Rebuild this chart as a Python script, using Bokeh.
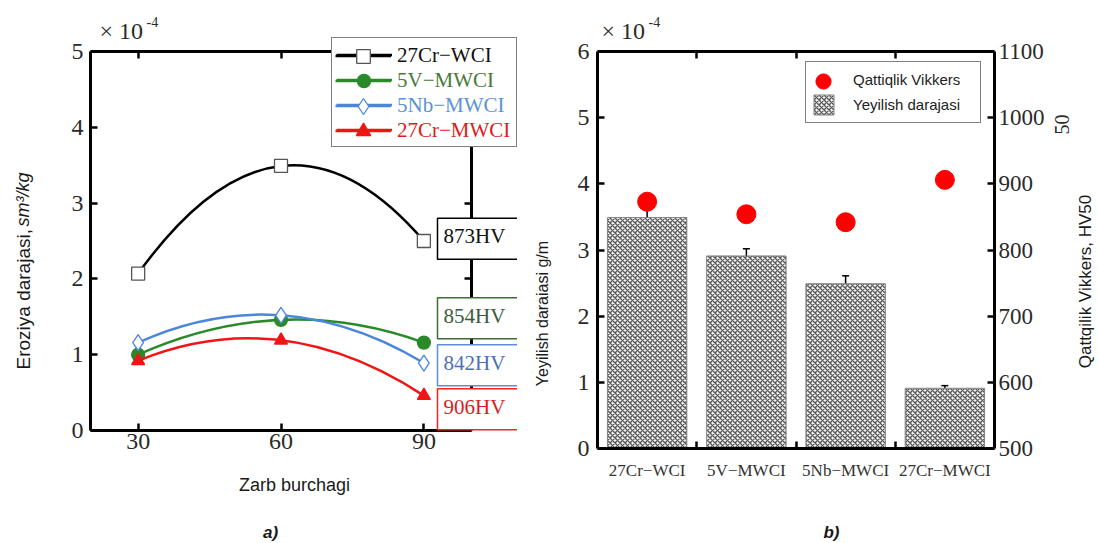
from math import pi
from bokeh.plotting import figure
from bokeh.layouts import row
from bokeh.models import (Range1d, LinearAxis, FixedTicker, Label, Legend, LegendItem,
                          ColumnDataSource, Whisker, TeeHead)
from bokeh.embed import file_html
from bokeh.resources import INLINE

# ---------------- data: panel a ----------------
angles = [30, 60, 90]
erosion_27cr_wci = [2.07, 3.49, 2.50]
erosion_5v_mwci = [1.00, 1.46, 1.16]
erosion_5nb_mwci = [1.16, 1.52, 0.89]
erosion_27cr_mwci = [0.92, 1.19, 0.46]
series_names = ["27Cr−WCI", "5V−MWCI", "5Nb−MWCI", "27Cr−MWCI"]
x_ticks_a = [30, 60, 90]
y_ticks_a = [0, 1, 2, 3, 4, 5]

# ---------------- data: panel b ----------------
materials = ["27Cr−WCI", "5V−MWCI", "5Nb−MWCI", "27Cr−MWCI"]
wear_rate = [3.49, 2.91, 2.49, 0.91]
wear_err = [0.23, 0.11, 0.12, 0.04]
hardness = [873, 854, 842, 906]
y_ticks_b = [0, 1, 2, 3, 4, 5, 6]
hv_ticks = [500, 600, 700, 800, 900, 1000, 1100]

SERIF = "Liberation Serif"
SANS = "Liberation Sans"
H = 543


def span(d0, d1, p0, p1, total):
    """data range covering the whole canvas so that d0..d1 sits at pixels p0..p1"""
    k = (d1 - d0) / (p1 - p0)
    return Range1d(d0 - p0 * k, d1 + (total - p1) * k)


def style_axis(ax, ticks, labels=True, size="24px", standoff=6, minor=None):
    ax.ticker = FixedTicker(ticks=ticks, minor_ticks=minor or [])
    ax.axis_line_width = 3
    ax.axis_line_color = "black"
    ax.major_tick_in = 7
    ax.major_tick_out = 0
    ax.minor_tick_in = 0
    ax.minor_tick_out = 0
    ax.major_tick_line_width = 2.5
    ax.major_tick_line_color = "black"
    ax.major_label_text_font = SERIF
    ax.major_label_text_font_size = size
    ax.major_label_text_color = "#2a2a2a"
    ax.major_label_standoff = standoff
    if not labels:
        ax.major_label_text_alpha = 0
        ax.major_label_text_font_size = "1px"


def screen_label(p, x, y, text, **kw):
    p.add_layout(Label(x=x, y=y, x_units="screen", y_units="screen", text=text, **kw))


# =============== panel a ===============
W1 = 517
xa0, xa1, ya0, ya1 = 20, 100, 0, 5
p1 = figure(width=W1, height=H,
            x_range=span(xa0, xa1, 90, 471, W1),
            y_range=span(ya0, ya1, H - 430, H - 51, H),
            output_backend="svg", toolbar_location=None,
            x_axis_location=None, y_axis_location=None, min_border=0)
p1.outline_line_color = None
p1.grid.visible = False

axb = LinearAxis(fixed_location=ya0, bounds=(xa0, xa1))
style_axis(axb, x_ticks_a, size="24px", standoff=3); p1.add_layout(axb, "below")
axl = LinearAxis(fixed_location=xa0, bounds=(ya0, ya1))
style_axis(axl, y_ticks_a, size="24px", standoff=7); p1.add_layout(axl, "left")
axt = LinearAxis(fixed_location=ya1, bounds=(xa0, xa1))
style_axis(axt, x_ticks_a, labels=False); p1.add_layout(axt, "above")
axr = LinearAxis(fixed_location=xa1, bounds=(ya0, ya1))
style_axis(axr, y_ticks_a, labels=False); p1.add_layout(axr, "right")

series = [erosion_27cr_wci, erosion_5v_mwci, erosion_5nb_mwci, erosion_27cr_mwci]
line_colors = ["black", "#2a8a2a", "#4a86dc", "#f01515"]
text_colors = ["#111111", "#4a7a3a", "#5b93d6", "#e01a1a"]
markers = ["square", "circle", "diamond", "triangle"]
m_sizes = [13, 13, 16, 13]
m_fill = ["white", "#2a8a2a", "white", "#f01515"]
m_line = ["#555555", "#2a8a2a", "#4a86dc", "#f01515"]
leg_glyph = [34, 33, 40, 36]

line_r = []
scat = []
for i, ys in enumerate(series):
    # quadratic curve passing through the three measured points
    cy = 2 * ys[1] - (ys[0] + ys[2]) / 2
    cx = 2 * angles[1] - (angles[0] + angles[2]) / 2
    qr = p1.quadratic(x0=[angles[0]], y0=[ys[0]], x1=[angles[2]], y1=[ys[2]],
                      cx=[cx], cy=[cy], line_color=line_colors[i], line_width=2.5)
    sr = p1.scatter(x=angles, y=ys, marker=markers[i], size=m_sizes[i],
                    fill_color=m_fill[i], line_color=m_line[i], line_width=1.3)
    line_r.append(qr)
    scat.append(sr)

# legend frame (331..515 x 39..147 px): white box with border, blank labels
leg1 = Legend(items=[LegendItem(label=" ", renderers=[line_r[i]]) for i in range(len(series))],
              location=(331, H - 147), orientation="vertical",
              padding=4, spacing=0, margin=0, glyph_width=56, glyph_height=25,
              label_height=25, label_width=116, label_standoff=4,
              label_text_alpha=0, label_text_font=SERIF, label_text_font_size="20px",
              border_line_color="black", border_line_width=1.5,
              background_fill_color="white", background_fill_alpha=1)
p1.add_layout(leg1)

row_cy = [55.5, 80.5, 105.5, 130.5]
glyph_cx = 331 + 4 + 28
# one legend per series, so each label gets its own colour
for i in range(len(series)):
    p1.add_layout(Legend(items=[LegendItem(label=series_names[i], renderers=[line_r[i]])],
                         location=(335, H - (row_cy[i] + 12.5)),
                         padding=0, spacing=0, margin=0, glyph_width=56, glyph_height=25,
                         label_height=25, label_standoff=6,
                         label_text_font=SERIF, label_text_font_size="21px",
                         label_text_color=text_colors[i],
                         border_line_color=None, background_fill_alpha=0))
for i in range(len(series)):
    g = leg_glyph[i]
    p1.add_layout(Legend(items=[LegendItem(label=" ", renderers=[scat[i]])],
                         location=(glyph_cx - g / 2, H - (row_cy[i] + g / 2)),
                         padding=0, spacing=0, margin=0, glyph_width=g, glyph_height=g,
                         label_height=g, label_width=1, label_standoff=0, label_text_alpha=0,
                         border_line_color=None, background_fill_alpha=0))

# hardness boxes
box_line = ["black", "#3d6b3a", "#5b8fd8", "#ff2020"]
box_text = ["#111111", "#3d5a3a", "#4b6fb8", "#d81e1e"]
hv_y = [2.53, 1.48, 0.86, 0.28]
for i, h in enumerate(hardness):
    p1.add_layout(Label(x=92.86, y=hv_y[i], text=f"{h}HV", text_font=SERIF, text_font_size="21px",
                        text_color=box_text[i], text_baseline="middle", text_align="left",
                        border_line_color=box_line[i], border_line_width=1.5,
                        background_fill_color="white", background_fill_alpha=1,
                        padding=(6, 20, 6, 11)))

# multiplier
screen_label(p1, 99, H - 30, "× 10", text_font=SERIF, text_font_size="24px",
             text_color="#2a2a2a", text_baseline="middle")
screen_label(p1, 146, H - 21, "-4", text_font=SERIF, text_font_size="14px",
             text_color="#2a2a2a", text_baseline="middle")

# axis titles
screen_label(p1, 22.5, H - 369, "Eroziya darajasi, ", angle=pi / 2, text_font=SANS,
             text_font_size="19px", text_color="#1a1a1a", text_baseline="middle", text_align="left")
screen_label(p1, 22.5, H - 226, "sm³/kg", angle=pi / 2, text_font=SANS, text_font_size="18px",
             text_font_style="italic", text_color="#1a1a1a", text_baseline="middle", text_align="left")
screen_label(p1, 294, H - 484, "Zarb burchagi", text_font=SANS, text_font_size="18px",
             text_color="#1a1a1a", text_baseline="middle", text_align="center")
screen_label(p1, 270, H - 532, "a)", text_font=SANS, text_font_size="17px",
             text_font_style="bold italic", text_color="#1a1a1a",
             text_baseline="middle", text_align="center")

# =============== panel b ===============
W2 = 581
n = len(materials)
p2 = figure(width=W2, height=H,
            x_range=span(0, n, 80, 477, W2),
            y_range=span(0, 6, H - 448, H - 51, H),
            output_backend="svg", toolbar_location=None,
            x_axis_location=None, y_axis_location=None, min_border=0)
p2.extra_y_ranges = {"hv": span(500, 1100, H - 448, H - 51, H)}
p2.outline_line_color = None
p2.grid.visible = False

xpos = [i + 0.5 for i in range(n)]
bounds = [i for i in range(1, n)]

bx = LinearAxis(fixed_location=0, bounds=(0, n))
style_axis(bx, xpos, size="17px", standoff=12, minor=bounds)
bx.major_tick_in = 0
bx.minor_tick_in = 7
bx.minor_tick_line_width = 2.5
bx.minor_tick_line_color = "black"
bx.major_label_text_color = "#333333"
bx.major_label_overrides = {xpos[i]: materials[i] for i in range(n)}
p2.add_layout(bx, "below")
lx = LinearAxis(fixed_location=0, bounds=(0, 6))
style_axis(lx, y_ticks_b, size="24px", standoff=8); p2.add_layout(lx, "left")
tx = LinearAxis(fixed_location=6, bounds=(0, n))
style_axis(tx, bounds, labels=False); p2.add_layout(tx, "above")
rx = LinearAxis(y_range_name="hv", fixed_location=n, bounds=(500, 1100))
style_axis(rx, hv_ticks, size="23px", standoff=4); p2.add_layout(rx, "right")

src = ColumnDataSource(dict(x=xpos, top=wear_rate,
                            up=[w + e for w, e in zip(wear_rate, wear_err)],
                            lo=[w - e for w, e in zip(wear_rate, wear_err)],
                            hv=hardness))
bars = p2.vbar(x="x", top="top", width=0.8, source=src, fill_color="#f2f2f2",
               hatch_pattern="diagonal_cross", hatch_scale=5, hatch_weight=1.3, hatch_color="#555555",
               line_color="#808080", line_width=1)
wh = Whisker(source=src, base="x", upper="up", lower="lo", line_width=1.5, line_color="black",
             upper_head=TeeHead(size=7, line_width=1.5), lower_head=TeeHead(size=7, line_width=1.5))
p2.add_layout(wh)
dots = p2.scatter(x="x", y="hv", source=src, y_range_name="hv", size=19,
                  fill_color="#ff0000", line_color="#ff0000", level="overlay")

# legend box 805..979 x 63..123 px (figure offset 517)
leg2 = Legend(items=[LegendItem(label="Qattiqlik Vikkers", renderers=[dots]),
                     LegendItem(label="Yeyilish darajasi", renderers=[bars])],
              location=(288, H - 123.3), padding=5, spacing=0, margin=0,
              glyph_width=25, glyph_height=25, label_height=25, label_width=122, label_standoff=17,
              label_text_font=SANS, label_text_font_size="15px", label_text_color="#222222",
              border_line_color="black", border_line_width=1.5,
              background_fill_color="white", background_fill_alpha=1)
p2.add_layout(leg2)
p2.add_layout(Legend(items=[LegendItem(label=" ", renderers=[dots])],
                     location=(305.5 - 19, H - 99.8),
                     padding=0, spacing=0, margin=0, glyph_width=38, glyph_height=38, label_height=38,
                     label_width=1, label_standoff=0, label_text_alpha=0, border_line_color=None,
                     background_fill_alpha=0))

screen_label(p2, 84, H - 30, "× 10", text_font=SERIF, text_font_size="24px",
             text_color="#2a2a2a", text_baseline="middle")
screen_label(p2, 131, H - 21, "-4", text_font=SERIF, text_font_size="14px",
             text_color="#2a2a2a", text_baseline="middle")
screen_label(p2, 25, H - 313, "Yeyilish daraiasi g/m", angle=pi / 2, text_font=SANS,
             text_font_size="16px", text_color="#1a1a1a", text_baseline="middle", text_align="center")
screen_label(p2, 568, H - 281, "Qattqilik Vikkers, HV50", angle=pi / 2, text_font=SANS,
             text_font_size="17px", text_color="#1a1a1a", text_baseline="middle", text_align="center")
screen_label(p2, 544, H - 124, "50", angle=pi / 2, text_font=SERIF, text_font_size="20px",
             text_color="#2a2a2a", text_baseline="middle", text_align="center")
screen_label(p2, 314, H - 532, "b)", text_font=SANS, text_font_size="17px",
             text_font_style="bold italic", text_color="#1a1a1a",
             text_baseline="middle", text_align="center")

layout = row(p1, p2)
open("out.html", "w").write(file_html(layout, INLINE))
